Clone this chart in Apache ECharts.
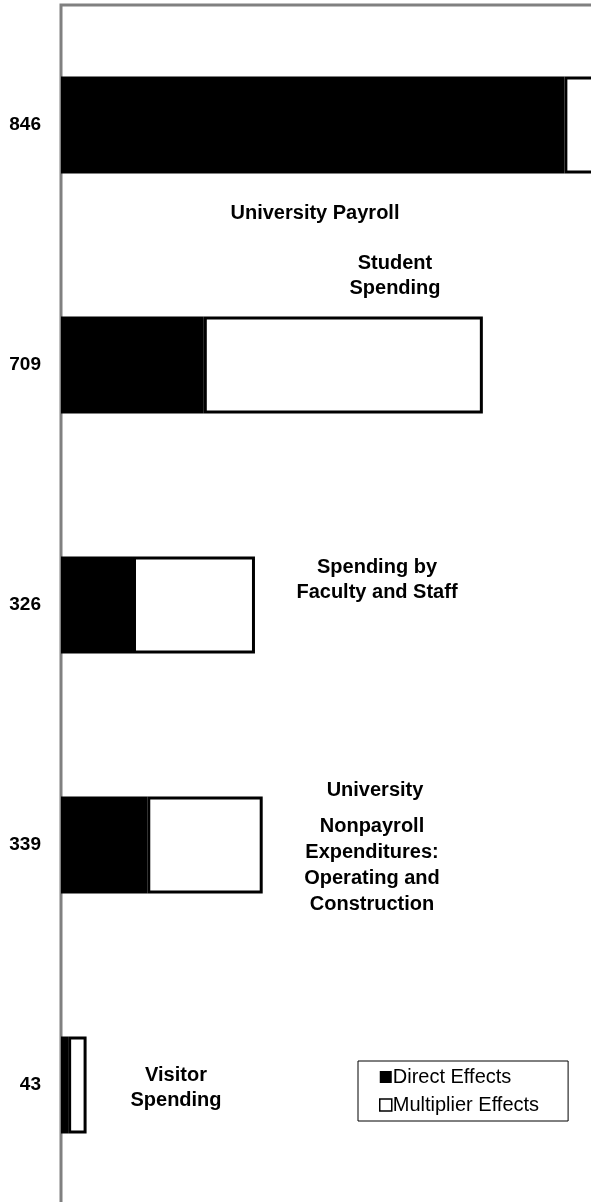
<!DOCTYPE html>
<html>
<head>
<meta charset="utf-8">
<script src="https://cdn.jsdelivr.net/npm/echarts@6/dist/echarts.min.js"></script>
<style>
  html, body { margin: 0; padding: 0; background: #fff; }
  #chart { width: 591px; height: 1202px; }
</style>
</head>
<body>
<div id="chart"></div>
<script>
// Economic impact by source: direct effects plus multiplier effects
const categoryLabels = ['846', '709', '326', '339', '43'];
const directEffects = [846, 240, 121, 145, 12];
const multiplierEffects = [760, 469, 205, 194, 31];
const seriesNames = ['Direct Effects', 'Multiplier Effects'];

const annotationFont = 'bold 20px "Liberation Sans", Arial, sans-serif';
function note(text, x, y, lineHeight) {
  return {
    type: 'text',
    x: x,
    y: y,
    style: {
      text: text,
      font: annotationFont,
      fill: '#000',
      align: 'center',
      verticalAlign: 'middle',
      lineHeight: lineHeight || 25
    },
    z: 10
  };
}

const chart = echarts.init(document.getElementById('chart'), null, { renderer: 'canvas' });

chart.setOption({
  animation: false,
  backgroundColor: '#fff',
  grid: {
    left: 61,
    top: 5,
    width: 595,
    height: 1200,
    outerBoundsMode: 'none',
    containLabel: false,
    show: true,
    borderColor: '#808080',
    borderWidth: 3,
    backgroundColor: 'transparent'
  },
  xAxis: {
    type: 'value',
    min: 0,
    max: 1000,
    show: false
  },
  yAxis: {
    type: 'category',
    data: categoryLabels,
    inverse: true,
    axisLine: { show: false },
    axisTick: { show: false },
    splitLine: { show: false },
    axisLabel: {
      margin: 20,
      color: '#000',
      fontFamily: '"Liberation Sans", Arial, sans-serif',
      fontWeight: 'bold',
      fontSize: 19
    }
  },
  legend: {
    orient: 'vertical',
    left: 358,
    top: 1061,
    padding: [6, 29, 6, 21],
    itemGap: 8,
    itemWidth: 12,
    itemHeight: 12,
    icon: 'rect',
    borderColor: '#000',
    borderWidth: 1,
    backgroundColor: '#fff',
    textStyle: {
      color: '#000',
      fontFamily: '"Liberation Sans", Arial, sans-serif',
      fontSize: 20,
      padding: [0, 0, 0, -4]
    },
    data: [
      { name: seriesNames[0], itemStyle: { color: '#000' } },
      { name: seriesNames[1], itemStyle: { color: '#fff', borderColor: '#000', borderWidth: 1.5 } }
    ]
  },
  series: [
    {
      name: seriesNames[0],
      type: 'bar',
      stack: 'impact',
      barWidth: 97,
      data: directEffects,
      itemStyle: { color: '#000' }
    },
    {
      name: seriesNames[1],
      type: 'bar',
      stack: 'impact',
      barWidth: 97,
      data: multiplierEffects,
      itemStyle: { color: '#fff', borderColor: '#000', borderWidth: 3 }
    }
  ],
  graphic: [
    note('University Payroll', 315, 213),
    note('Student\nSpending', 395, 276, 25),
    note('Spending by\nFaculty and Staff', 377, 580, 25),
    note('University', 375, 790),
    note('Nonpayroll\nExpenditures:\nOperating and\nConstruction', 372, 865, 26),
    note('Visitor\nSpending', 176, 1088, 25)
  ]
});
</script>
</body>
</html>
